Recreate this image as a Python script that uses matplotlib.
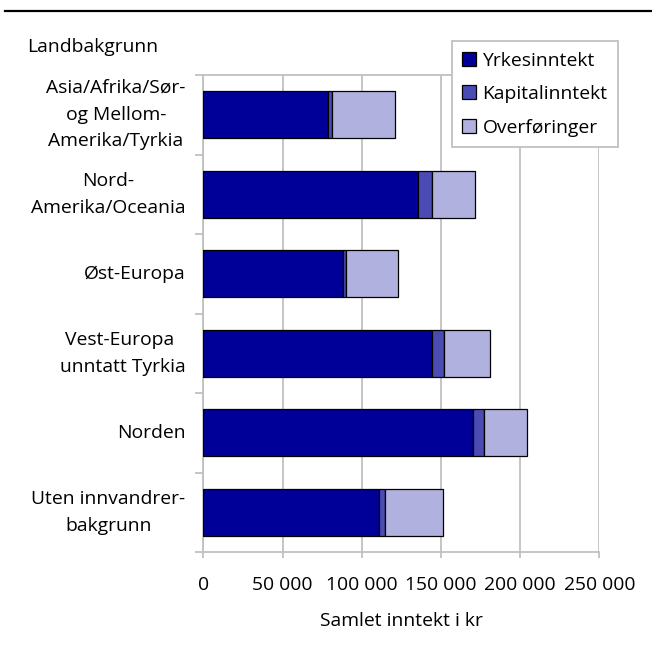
import matplotlib
matplotlib.use("Agg")
import matplotlib.pyplot as plt
from matplotlib.lines import Line2D
from matplotlib.patches import Patch
from matplotlib.transforms import ScaledTranslation

plt.rcParams["font.family"] = ["Open Sans", "DejaVu Sans"]

# Landbakgrunn, top to bottom
categories = [
    "Asia/Afrika/Sør-\nog Mellom-\nAmerika/Tyrkia",
    "Nord-\nAmerika/Oceania",
    "Øst-Europa",
    "Vest-Europa \nunntatt Tyrkia",
    "Norden",
    "Uten innvandrer-\nbakgrunn",
]
yrkesinntekt = [78500, 135700, 87900, 144500, 170400, 110700]
kapitalinntekt = [2500, 8400, 2300, 7600, 6700, 3800]
overforinger = [40200, 27200, 32800, 29000, 27000, 36600]

series_names = ["Yrkesinntekt", "Kapitalinntekt", "Overføringer"]
colors = ["#000099", "#4b4bb4", "#b1b1df"]
x_ticks = [0, 50000, 100000, 150000, 200000, 250000]
grid_c = "#c0c0c0"
fs = 13.9

fig = plt.figure(figsize=(6.52, 6.55), dpi=100)
ax = fig.add_axes([203.4 / 652, 1 - 552 / 655, (599.3 - 203.4) / 652, (552 - 75) / 655])

pos = [i + 0.5 for i in range(len(categories))]
left = [0] * len(categories)
for vals, name, c in zip([yrkesinntekt, kapitalinntekt, overforinger], series_names, colors):
    ax.barh(pos, vals, left=left, height=0.59, color=c, edgecolor="black",
            linewidth=0.9, label=name, zorder=3)
    left = [a + b for a, b in zip(left, vals)]

ax.set_ylim(len(categories), 0)
ax.set_xlim(0, 250000)

# boundaries between categories as ticks; names drawn as text beside the axis
ax.set_yticks(range(len(categories) + 1))
ax.set_yticklabels([])
ax.tick_params(axis="y", length=6, color=grid_c, width=1.3)
label_trans = ax.get_yaxis_transform() + ScaledTranslation(-18 / 100, 0, fig.dpi_scale_trans)
for p, name in zip(pos, categories):
    ax.text(0, p, name, transform=label_trans, fontsize=fs, ha="right", va="center",
            multialignment="center", linespacing=1.62)

ax.set_xticks(x_ticks)
ax.set_xticklabels([f"{v:,}".replace(",", " ") for v in x_ticks], fontsize=fs)
ax.tick_params(axis="x", length=4.5, color=grid_c, width=1.3, pad=12.5)
ax.set_xlabel("Samlet inntekt i kr", fontsize=fs, labelpad=13)

ax.xaxis.grid(True, color=grid_c, linewidth=1.3, zorder=0)
ax.set_axisbelow(True)
for side in ["left", "bottom", "top"]:
    ax.spines[side].set_color(grid_c)
    ax.spines[side].set_linewidth(1.3)
ax.spines["right"].set_visible(False)

handles = [Patch(facecolor=c, edgecolor="black", linewidth=0.9) for c in colors]
leg = fig.legend(handles, series_names, loc="upper left",
                 bbox_to_anchor=(451.7 / 652, 1 - 41 / 655), fontsize=fs,
                 frameon=True, fancybox=False, edgecolor=grid_c, framealpha=1,
                 handlelength=0.72, handleheight=0.72, handletextpad=0.33,
                 labelspacing=0.8, borderpad=0.55, borderaxespad=0)
leg.get_frame().set_linewidth(1.3)

fig.text(27 / 652, 1 - 47 / 655, "Landbakgrunn", fontsize=fs, va="center", ha="left")

fig.add_artist(Line2D([5 / 652, 1.0], [1 - 11 / 655, 1 - 11 / 655],
                      color="black", linewidth=1.6))

fig.savefig("out.png", dpi=100, facecolor="white")
